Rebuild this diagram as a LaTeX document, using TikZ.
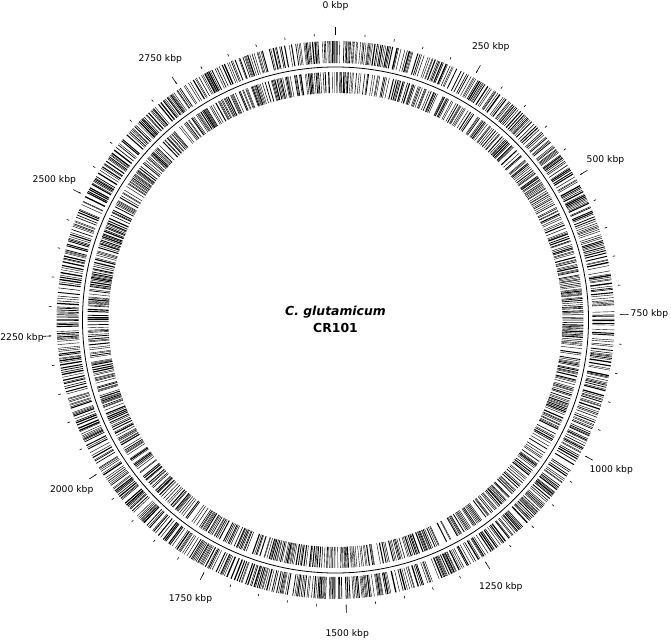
\documentclass[tikz,border=0pt]{standalone}
\usepackage{fontspec}
\setmainfont{DejaVu Sans}
\def\GL{3036}
\newcommand\genestrand[3]{% inner radius, outer radius, mid radius
  \pgfmathsetmacro\curA{rnd*0.3}%
  \loop
    \pgfmathsetmacro\gr{rnd}%
    \pgfmathsetmacro\glen{0.04+0.25*\gr*\gr}%
    \pgfmathsetmacro\mid{90-\curA-\glen/2}%
    \pgfmathsetmacro\lw{max(0.4,\glen*0.017453*#3)}%
    \draw[gene,line width=\lw pt] (\mid:#1pt) -- (\mid:#2pt);
    \pgfmathsetmacro\gap{0.09-0.24*ln(rnd+0.0005)}%
    \pgfmathsetmacro\curA{\curA+\glen+\gap}%
  \ifdim\curA pt<359.8pt\repeat}
\begin{document}
\begin{tikzpicture}[
  gene/.style={draw=black},
  tickline/.style={draw=black,line width=0.6pt},
  ticklab/.style={font=\fontsize{9.2}{11}\selectfont,inner sep=0pt},
  backbone/.style={draw=black,line width=0.8pt}]
\useasboundingbox (-335.5pt,-320pt) rectangle (335.5pt,320pt);
\pgfmathsetseed{2024}
% outer (forward) strand
\genestrand{257}{279}{268}
% inner (reverse) strand
\genestrand{227}{248}{237}
% backbone circle
\draw[backbone] (0,0) circle (253pt);
% minor ticks
\foreach \k in {0,...,60}{
  \pgfmathsetmacro\ang{90-\k*50/\GL*360}
  \draw[tickline] (\ang:284.5pt) -- (\ang:287pt);
}
% major ticks and labels
\foreach \k in {0,...,11}{
  \pgfmathsetmacro\ang{90-\k*250/\GL*360}
  \pgfmathtruncatemacro\kb{\k*250}
  \coordinate (ti\k) at (\ang:285pt);
  \coordinate (to\k) at (\ang:293pt);
  \draw[tickline] (ti\k) -- (to\k);
  \node[ticklab] (lab\k) at (\ang:314pt) {\kb\ kbp};
}
\node[align=center,inner sep=0pt,font=\fontsize{12.4}{16.7}\selectfont\bfseries] (title) at (0,0.5pt)
  {\textit{C. glutamicum}\\CR101};
\end{tikzpicture}
\end{document}
